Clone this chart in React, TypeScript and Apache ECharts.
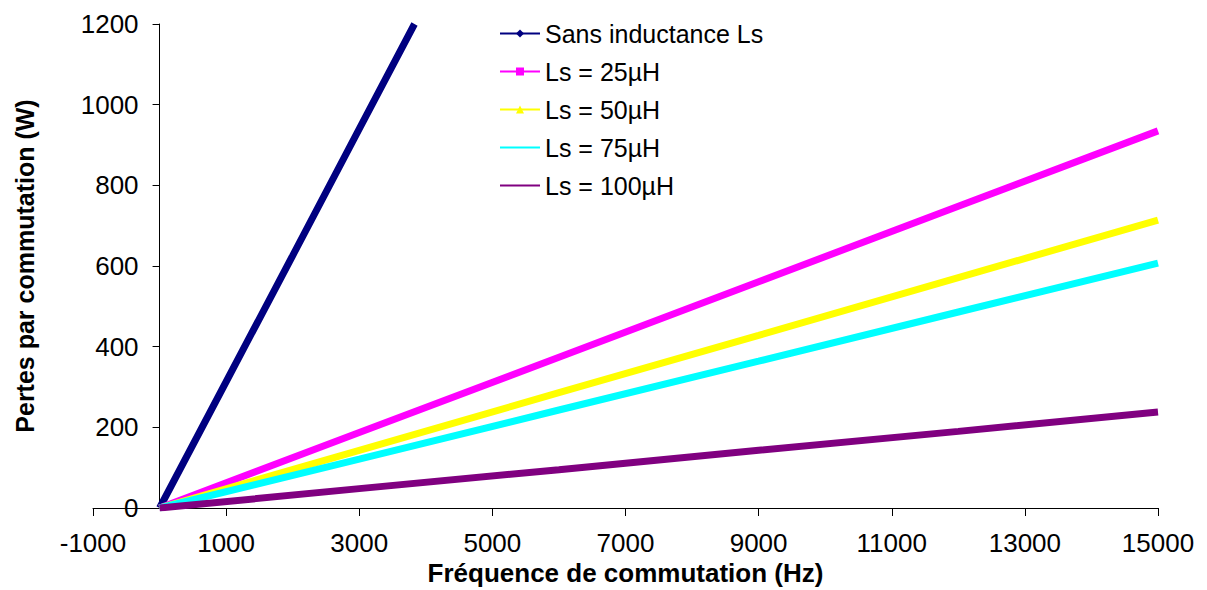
import React, { useEffect, useRef } from "react";
import * as echarts from "echarts";

const seriesNames = ["Sans inductance Ls", "Ls = 25µH", "Ls = 50µH", "Ls = 75µH", "Ls = 100µH"];
const colors = ["#000080", "#ff00ff", "#ffff00", "#00ffff", "#800080"];
const symbols = ["diamond", "rect", "triangle", "path://M0,0L10,10M10,0L0,10", "path://M0,0L10,10M10,0L0,10M5,0L5,10"];

const freqSans = [0, 1000, 2000, 3000, 3830];
const lossSans = [0, 313, 626, 940, 1200];

const freqLs = [0, 3000, 6000, 9000, 12000, 15000];
const loss25 = [0, 187, 374, 561, 748, 935];
const loss50 = [0, 143, 286, 428, 571, 714];
const loss75 = [0, 121, 243, 364, 486, 607];
const loss100 = [0, 48, 95, 143, 190, 238];

const xTicks = { min: -1000, max: 15000, interval: 2000 };
const yTicks = { min: 0, max: 1200, interval: 200 };

const FONT = "Liberation Sans, Arial, sans-serif";

const GRID_LEFT = 93;
const GRID_RIGHT = 49;
const WIDTH = 1207;

export default function App() {
  const ref = useRef<HTMLDivElement>(null);
  useEffect(() => {
    if (!ref.current) return;
    const chart = echarts.init(ref.current, null, { renderer: "svg" });
    const pair = (xs: number[], ys: number[]) => xs.map((x, i) => [x, ys[i]]);
    const datasets = [
      pair(freqSans, lossSans),
      pair(freqLs, loss25),
      pair(freqLs, loss50),
      pair(freqLs, loss75),
      pair(freqLs, loss100),
    ];
    const plotW = WIDTH - GRID_LEFT - GRID_RIGHT;
    const zeroOffset = ((0 - xTicks.min) / (xTicks.max - xTicks.min)) * plotW;
    chart.setOption({
      animation: false,
      backgroundColor: "#ffffff",
      grid: { left: GRID_LEFT, right: GRID_RIGHT, top: 24, bottom: 82, containLabel: false, outerBoundsMode: "none" },
      legend: {
        orient: "vertical",
        left: 494,
        top: 16,
        itemWidth: 40,
        itemHeight: 10,
        itemGap: 13,
        data: seriesNames,
        textStyle: { fontFamily: FONT, fontSize: 25, color: "#000" },
        lineStyle: { width: 2 },
      },
      xAxis: {
        type: "value",
        min: xTicks.min,
        max: xTicks.max,
        interval: xTicks.interval,
        name: "Fréquence de commutation (Hz)",
        nameLocation: "middle",
        nameGap: 54,
        nameMoveOverlap: false,
        nameTextStyle: { fontFamily: FONT, fontSize: 26, fontWeight: "bold", color: "#000", lineHeight: 22 },
        axisLine: { onZero: false, lineStyle: { color: "#000", width: 1 } },
        axisTick: { show: true, inside: false, length: 8, lineStyle: { color: "#000" } },
        axisLabel: { fontFamily: FONT, fontSize: 26, color: "#000", margin: 25, lineHeight: 20, formatter: (v: number) => String(v) },
        splitLine: { show: false },
      },
      yAxis: {
        type: "value",
        min: yTicks.min,
        max: yTicks.max,
        interval: yTicks.interval,
        position: "left",
        offset: -zeroOffset,
        name: "Pertes par commutation (W)",
        nameLocation: "middle",
        nameGap: 122,
        nameMoveOverlap: false,
        nameTextStyle: { fontFamily: FONT, fontSize: 25, fontWeight: "bold", color: "#000" },
        axisLine: { show: true, onZero: false, lineStyle: { color: "#000", width: 1 } },
        axisTick: { show: true, inside: false, length: 7, lineStyle: { color: "#000" } },
        axisLabel: { fontFamily: FONT, fontSize: 26, color: "#000", margin: 21, formatter: (v: number) => String(v) },
        splitLine: { show: false },
      },
      series: datasets.map((d, i) => ({
        name: seriesNames[i],
        type: "line",
        data: d,
        color: colors[i],
        symbol: symbols[i],
        symbolSize: 7,
        showSymbol: false,
        lineStyle: { width: 7, color: colors[i] },
        itemStyle: { color: colors[i], borderColor: colors[i] },
      })),
    });
    return () => chart.dispose();
  }, []);
  return <div ref={ref} style={{ position: "absolute", left: 0, top: 0, width: WIDTH, height: 590 }} />;
}
